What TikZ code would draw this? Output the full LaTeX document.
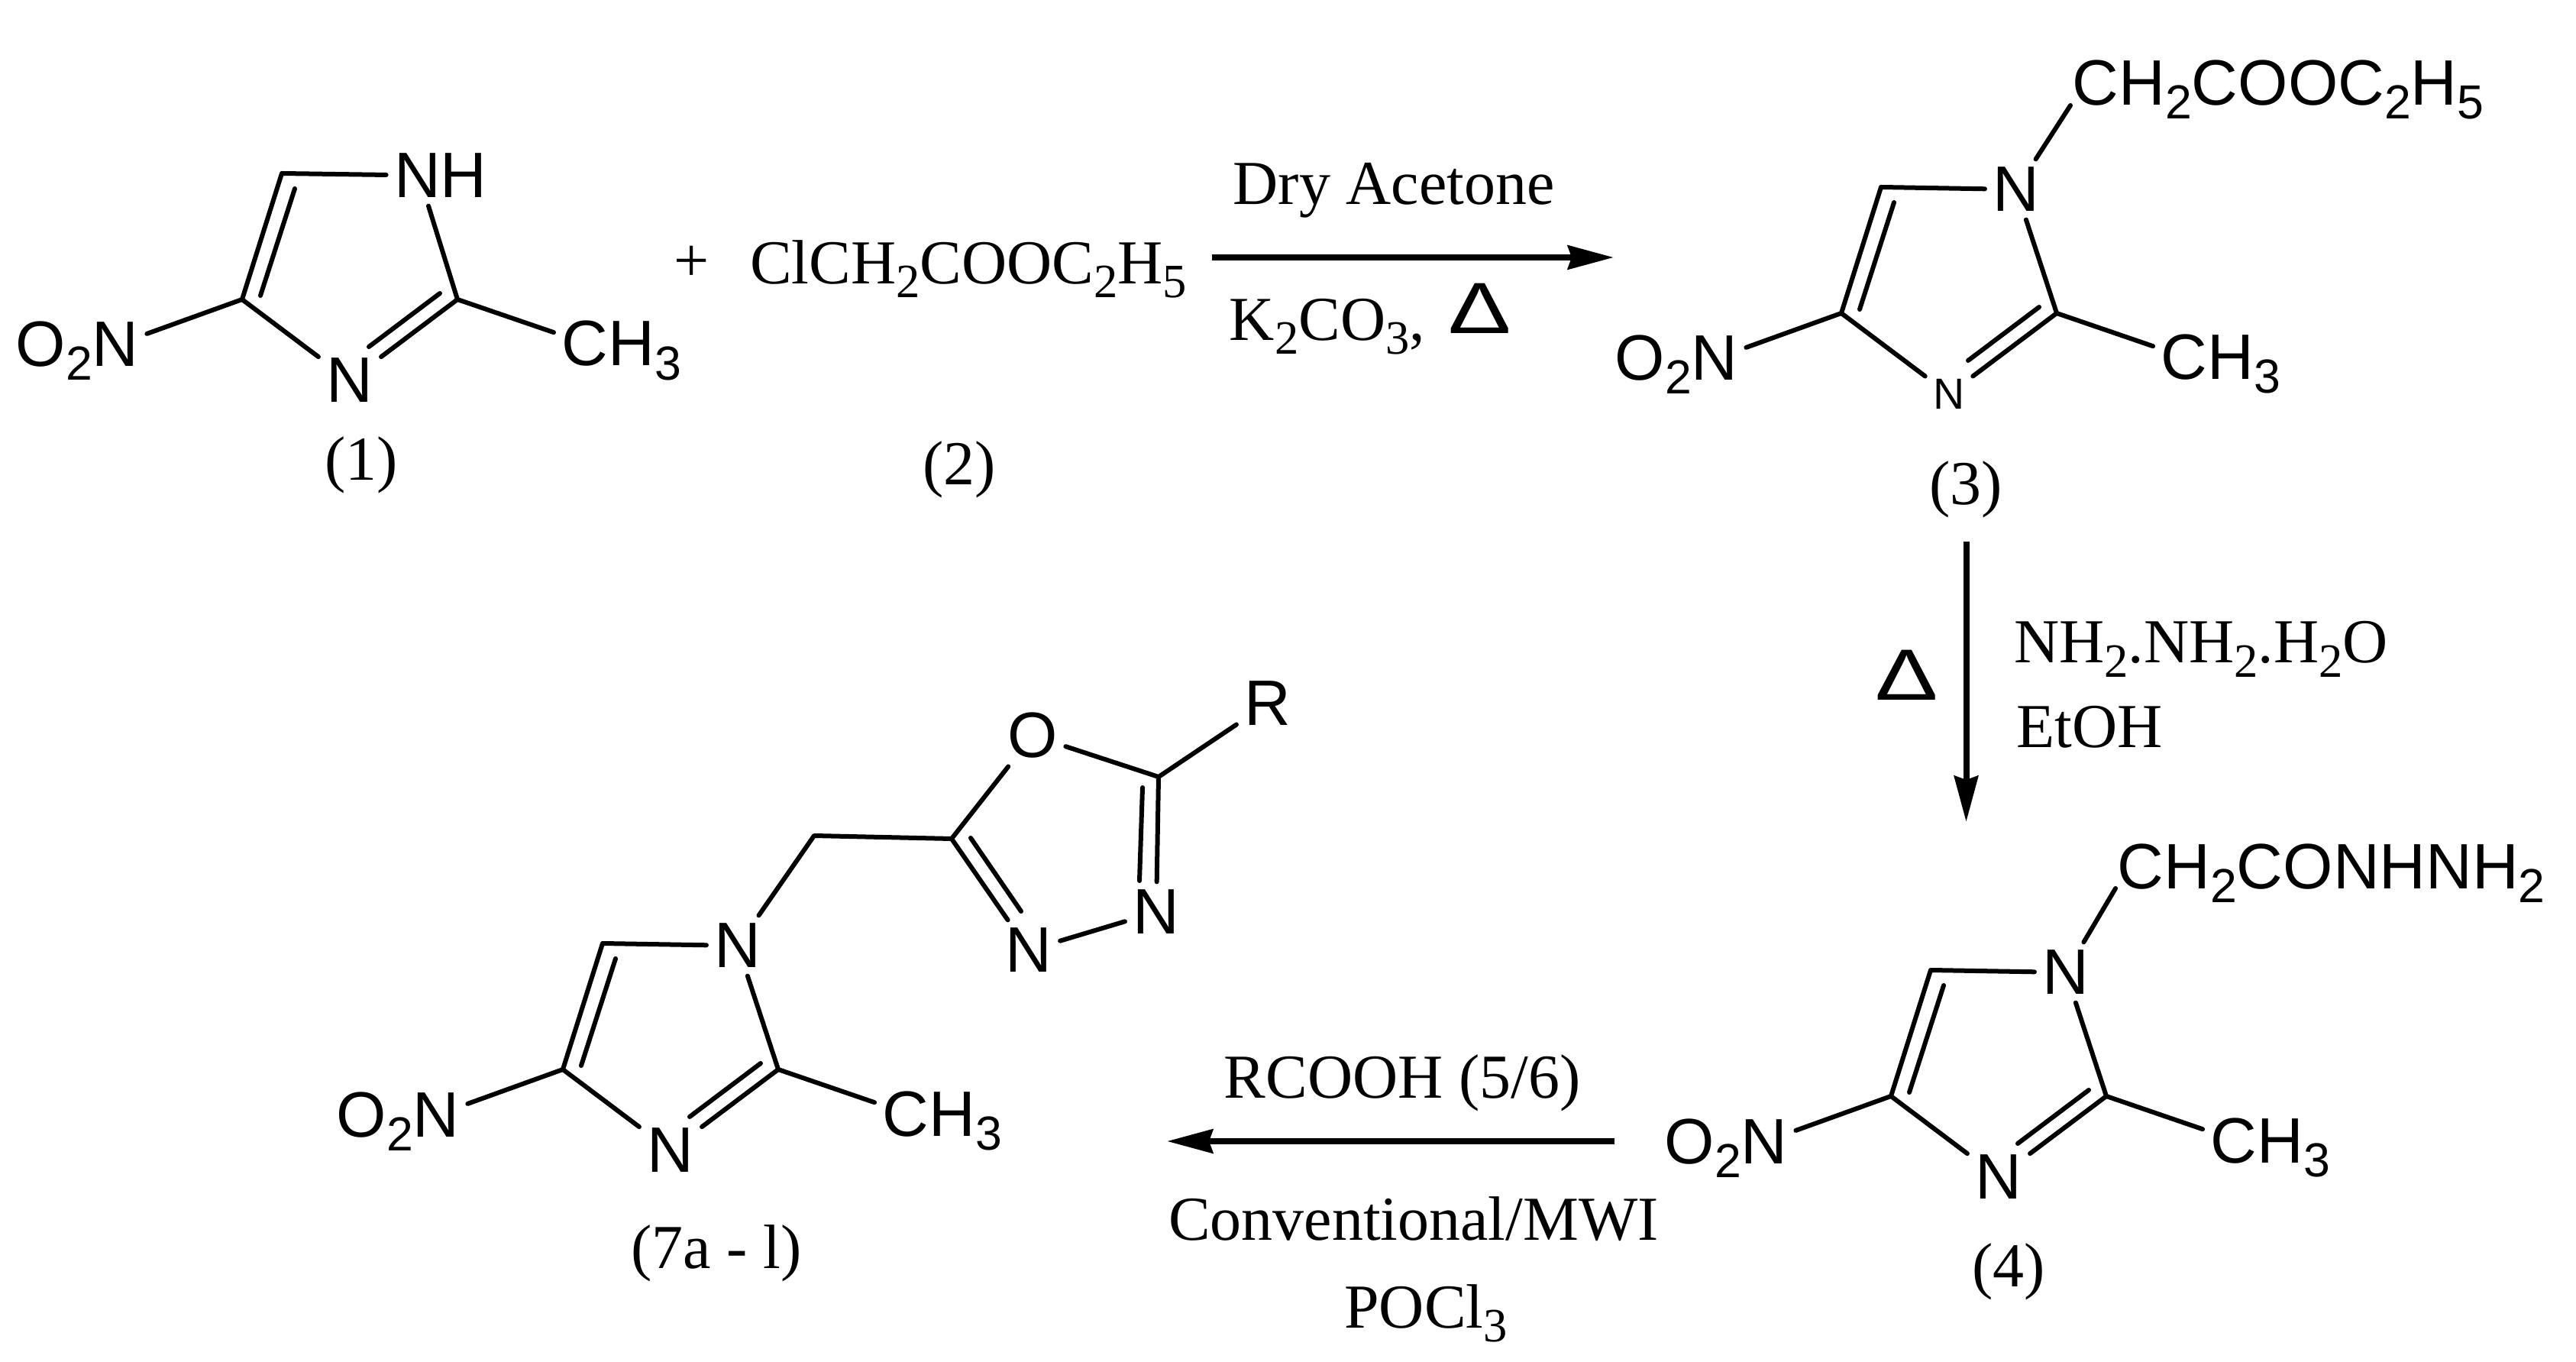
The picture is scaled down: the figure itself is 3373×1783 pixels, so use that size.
\documentclass[tikz,border=0pt]{standalone}
\usepackage{fontspec}
\setmainfont{Liberation Serif}
\newfontfamily\molfont{Liberation Sans}
\usetikzlibrary{arrows.meta}
\newcommand{\subs}[1]{\raisebox{-.18cm}{\fontsize{17.8pt}{18pt}\selectfont #1}}

\begin{document}
\begin{tikzpicture}[x=.01cm,y=-.01cm,>={Stealth[length=.6cm,width=.31cm,inset=.05cm]}]
	\tikzstyle{atom} = [font=\fontsize{23.9pt}{24pt}\molfont, inner sep=.1cm]
	\tikzstyle{smallatom} = [font=\fontsize{16.2pt}{17pt}\molfont, inner sep=.1cm]
	\tikzstyle{chain} = [atom, anchor=base west, inner sep=.02cm]
	\tikzstyle{reag} = [font=\fontsize{23.3pt}{24pt}\selectfont, anchor=base, inner sep=0pt]
	\tikzstyle{heat} = [font=\fontsize{27pt}{28pt}\molfont, inner sep=0pt]
	\tikzstyle{bond} = [line width=.06cm, line cap=round, line join=round]
	\tikzstyle{rxn} = [line width=.08cm, ->]
	\useasboundingbox (0,0) rectangle (3373,1783);
	\foreach \m/\x/\y/\ntext/\nx/\nang/\nstyle/\lab/\lx/\ly in {
		p/369/227/NH/208/-112/atom/1/473/629,
		q/2463/245/N/177/-72/smallatom/3/2574/661,
		r/2528/1270/N/177/-72/atom/4/2630/1684,
		s/789/1235/N/177/-72/atom/7a - l/938/1660}{
		\coordinate (\m5) at (\x,\y);
		\coordinate (\m4) at (\x-52,\y+165);
		\coordinate (\m2) at (\x+230,\y+165);
		\node (\m n) [atom] at (\x+\nx,\y+3) {\ntext};
		\node (\m b) [\nstyle] at (\x+89,\y+271) {N};
		\node (\m me) [atom, anchor=base west] at (\x+356,\y+252) {CH\subs{3}};
		\node (\m no) [atom, anchor=base west] at (\x-359,\y+253) {O\subs{2}N};
		\node (\m l) [reag] at (\lx,\ly) {(\lab)};
		\draw[bond] (\m n) -- (\m5) -- (\m4) -- (\m b);
		\draw[bond] (\m n.\nang) -- (\m2) -- (\m b);
		\draw[bond] (\x+17,\y+20) -- (\x-28,\y+160);
		\draw[bond] (\x+207,\y+157) -- (\x+114,\y+227);
		\draw[bond] (\m4) -- (\m no.14);
		\draw[bond] (\m2) -- (\m me.165);
	}
	\node (q1) [chain] at (2711,138) {CH\subs{2}COOC\subs{2}H\subs{5}};
	\node (r1) [chain] at (2770,1163) {CH\subs{2}CONHNH\subs{2}};
	\draw[bond] (qn) -- (q1.base west);
	\draw[bond] (rn) -- (r1.base west);
	\coordinate (ch2) at (1066,1094);
	\coordinate (oxc1) at (1246,1098);
	\coordinate (oxc2) at (1517,1017);
	\node (oxo) [atom] at (1352,963) {O};
	\node (oxa) [atom] at (1347,1244) {N};
	\node (oxb) [atom] at (1514,1194) {N};
	\node (oxr) [atom] at (1660,921) {R};
	\draw[bond] (sn) -- (ch2) -- (oxc1) -- (oxo) -- (oxc2) -- (oxr);
	\draw[bond] (oxc1) -- (oxa) -- (oxb) -- (oxc2);
	\draw[bond] (1271,1097) -- (1337,1193);
	\draw[bond] (1496,1031) -- (1492,1153);
	\node (plus) [reag, anchor=center] at (906,345) {+};
	\node (cmp2) [reag] at (1268,372) {ClCH\subs{2}COOC\subs{2}H\subs{5}};
	\node (lab2) [reag] at (1256,635) {(2)};
	\node (dry) [reag] at (1825,268) {Dry Acetone};
	\node (base) [reag] at (1738,446) {K\subs{2}CO\subs{3},};
	\node (heata) [heat] at (1938,404) {\scalebox{1.3}[1]{Δ}};
	\node (hyd) [reag] at (2882,868) {NH\subs{2}.NH\subs{2}.H\subs{2}O};
	\node (etoh) [reag] at (2736,979) {EtOH};
	\node (heatb) [heat] at (2497,884) {\scalebox{1.3}[1]{Δ}};
	\node (acid) [reag] at (1836,1437) {RCOOH (5/6)};
	\node (conv) [reag] at (1851,1623) {Conventional/MWI};
	\node (pocl) [reag] at (1867,1738) {POCl\subs{3}};
	\coordinate (ra) at (1587,337);
	\coordinate (rb) at (2113,337);
	\coordinate (rc) at (2574.5,709);
	\coordinate (rd) at (2574.5,1076);
	\coordinate (re) at (2114,1494);
	\coordinate (rf) at (1528,1494);
	\draw[rxn] (ra) -- (rb);
	\draw[rxn] (rc) -- (rd);
	\draw[rxn] (re) -- (rf);
\end{tikzpicture}
\end{document}
